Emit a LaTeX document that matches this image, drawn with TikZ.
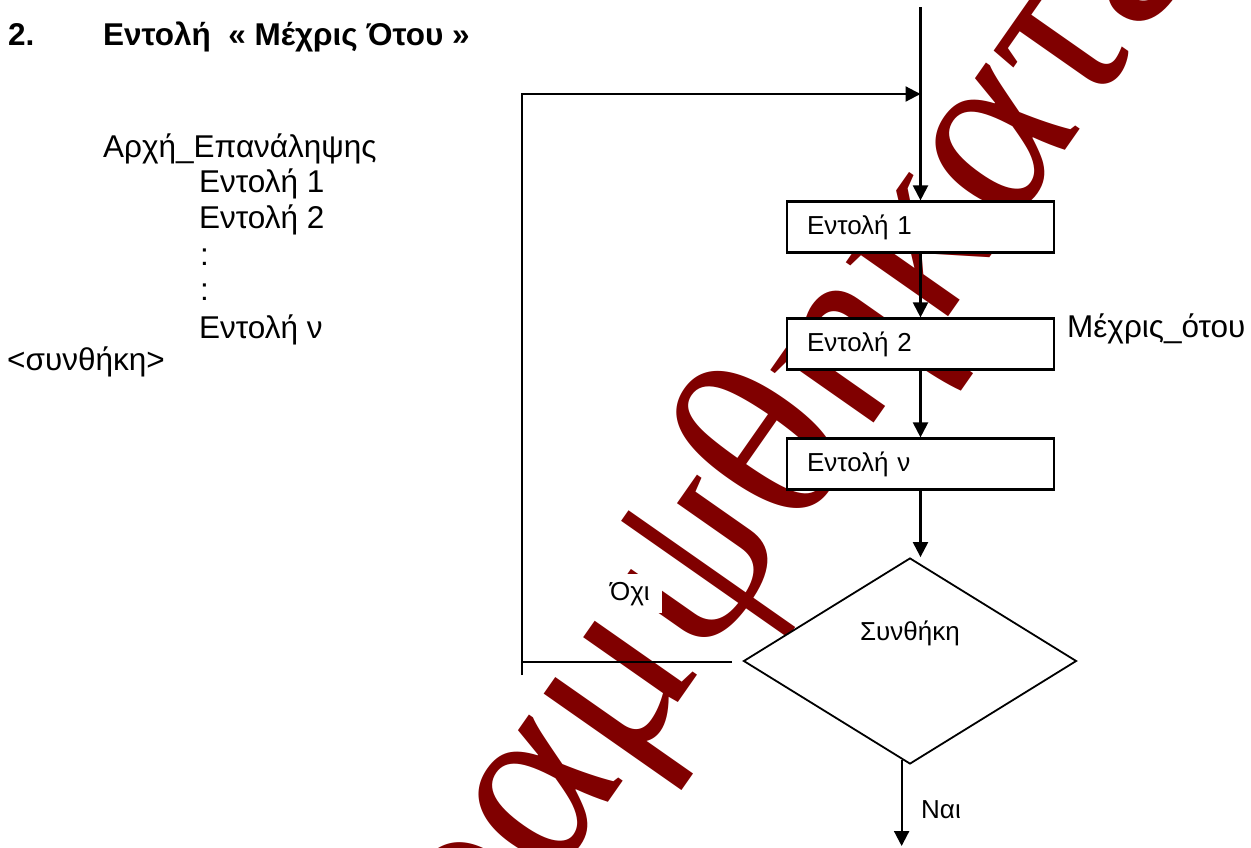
\documentclass[tikz,border=0pt]{standalone}
\usepackage{fontspec}
\setmainfont{Liberation Sans}
\newfontfamily\wmfont{Liberation Serif}
\usetikzlibrary{arrows.meta,shapes.geometric,calc}
\definecolor{wmred}{RGB}{128,0,0}
\begin{document}
\begin{tikzpicture}[x=1pt,y=-1pt,
  wire/.style={line width=2.2pt},
  flow/.style={wire,-{Triangle[length=15pt,width=15pt]}},
  cmdbox/.style={draw,fill=white,line width=2.2pt,minimum height=51pt,
    text width=227pt,inner xsep=20pt,inner ysep=0pt,align=left,
    font=\fontsize{26}{30}\selectfont},
  codetext/.style={anchor=base west,inner sep=0pt,font=\fontsize{31.5}{36}\selectfont},
  tag/.style={anchor=base west,inner sep=0pt,font=\fontsize{26}{30}\selectfont},
  heading/.style={anchor=base west,inner sep=0pt,font=\bfseries\fontsize{31.5}{36}\selectfont},
  wm/.style={rotate=55,text=wmred,inner sep=0pt,
    font=\wmfont\fontsize{250}{250}\selectfont}]
  % page
  \fill[white] (0,0) rectangle (1251,847);
  \useasboundingbox (0,0) rectangle (1251,847);

  % watermark behind the flowchart
  \node[wm] (wmark) at (791,436) {οαμψθηκατε};

  % heading
  \node[heading] (num) at (8,45) {2.};
  \node[heading] (title) at (103,45) {Εντολή\ \ « Μέχρις Ότου »};

  % pseudocode
  \node[codetext] (c0) at (103,157) {Αρχή\_Επανάληψης};
  \node[codetext] (c1) at (199,192) {Εντολή 1};
  \node[codetext] (c2) at (199,228) {Εντολή 2};
  \node[codetext] (c3) at (200,265) {:};
  \node[codetext] (c4) at (200,300) {:};
  \node[codetext] (c5) at (199,338) {Εντολή ν};
  \node[codetext] (c6) at (7,370) {<συνθήκη>};

  % flowchart
  \node[cmdbox] (b1) at (920.5,227) {Εντολή 1};
  \node[cmdbox] (b2) at (920.5,344) {Εντολή 2};
  \node[cmdbox] (bn) at (920.5,464) {Εντολή ν};
  \node[draw,diamond,fill=white,line width=1.8pt,minimum width=333pt,
    minimum height=206pt,inner sep=0pt] (cond) at (910,661) {};
  \node[anchor=base,inner sep=0pt,font=\fontsize{26}{30}\selectfont] (condtext) at (910,640) {Συνθήκη};

  \coordinate (entry) at (920.5,7);
  \coordinate (join) at (920.5,94);
  \coordinate (backend) at (522,675);
  \coordinate (backstart) at (732,662);
  \coordinate (backcorner) at (522,662);
  \coordinate (exit) at ($(cond.south)!0.05!(cond.west)$);
  \coordinate (out) at (exit |- 0,846);

  \draw[flow] (entry) -- (b1.north);
  \draw[flow] (b1.south) -- (b2.north);
  \draw[flow] (b2.south) -- (bn.north);
  \draw[flow] (bn.south) -- (bn.south |- cond.north);
  \draw[wire] (backstart) -- (backcorner);
  \draw[flow] (backend) |- (join);
  \draw[flow] (exit) -- (out);

  % labels
  \node[tag,fill=white,inner xsep=12pt,inner ysep=8pt] (no) at (598,600) {Όχι};
  \node[tag] (yes) at (921,818) {Ναι};
  \node[codetext] (until) at (1067,337) {Μέχρις\_ότου};
\end{tikzpicture}
\end{document}
